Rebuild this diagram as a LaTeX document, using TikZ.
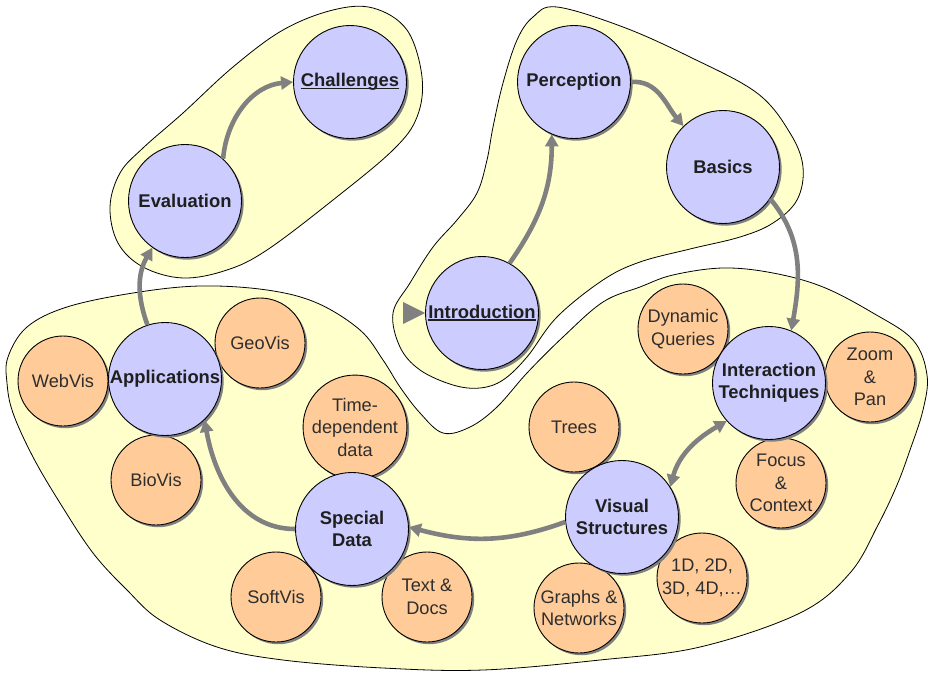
\documentclass[tikz,border=0pt]{standalone}
\usepackage{fontspec}
\setmainfont{Liberation Sans}
\usetikzlibrary{arrows.meta,shadows}
\definecolor{blobfill}{HTML}{FFFFCC}
\definecolor{topicfill}{HTML}{CCCCFF}
\definecolor{subfill}{HTML}{FFCC99}
\definecolor{linkgray}{HTML}{808080}
% underline set close to the baseline
\newcommand{\baseul}[1]{\setbox0=\hbox{#1}\makebox[0pt][l]{\rule[-2.6pt]{\wd0}{1.5pt}}\box0}
\begin{document}
\begin{tikzpicture}[x=1pt,y=-1pt,
  blob/.style={draw=black, line width=0.8pt, fill=blobfill},
  bubble/.style={circle, draw=black, line width=0.9pt, inner sep=0pt, align=center,
    drop shadow={shadow xshift=2.2pt, shadow yshift=-2.2pt, fill=black!50, opacity=1}},
  topic/.style={bubble, fill=topicfill, minimum size=113pt,
    font=\fontsize{18.4}{22}\selectfont\bfseries, text=black!88},
  sub/.style={bubble, fill=subfill, minimum size=90pt,
    font=\fontsize{18.2}{22.5}\selectfont, text=black!82},
  link/.style={draw=linkgray, line width=4.6pt, -{Triangle[length=12pt,width=13pt]}},
  dlink/.style={draw=linkgray, line width=4.6pt, {Triangle[length=12pt,width=13pt]}-{Triangle[length=12pt,width=13pt]}},
]
\useasboundingbox (0,0) rectangle (929,672);

% group outlines
\draw[blob] plot[smooth cycle, tension=0.6] coordinates {
  (110,207) (120,173) (143,148) (183,113) (233,67) (283,30) (333,10) (373,8)
  (407,30) (422,77) (417,117) (393,150) (333,200) (267,250) (227,270)
  (183,278) (143,267) (118,243)};

\draw[blob] plot[smooth cycle, tension=0.6] coordinates {
  (393,313) (410,283) (433,247) (457,220) (477,193) (487,160) (493,127)
  (503,83) (517,40) (533,17) (557,7) (623,27) (690,57) (757,93) (790,133)
  (803,167) (797,200) (773,223) (740,237) (690,249) (640,262) (603,280)
  (557,317) (527,357) (503,380) (480,388) (453,385) (420,370) (400,347)};

\draw[blob] plot[smooth cycle, tension=0.6] coordinates {
  (8,357) (27,327) (67,307) (133,293) (200,286) (267,290) (317,303)
  (360,330) (383,360) (400,387) (420,413) (443,433) (470,427) (497,407)
  (527,373) (563,337) (603,302) (640,287) (673,275) (723,268) (773,273)
  (823,287) (873,313) (913,340) (927,375) (923,410) (910,450) (897,485)
  (878,525) (850,573) (800,613) (700,647) (600,660) (483,670) (383,668)
  (283,660) (217,647) (160,620) (127,590) (93,553) (60,503) (33,457)
  (13,413) (7,383)};

% topics
\node[topic] (chal)  at (350,82)  {\baseul{Challenges}};
\node[topic] (eval)  at (185,201) {Evaluation};
\node[topic] (perc)  at (574,82)  {Perception};
\node[topic] (basics) at (723,167) {Basics};
\node[topic] (intro) at (482,313) {\baseul{Introduction}};

% sub-topics around Applications
\node[sub] (webvis) at (63,381)  {WebVis};
\node[sub] (geovis) at (260,343) {GeoVis};
\node[sub] (biovis) at (156,480) {BioVis};
\node[topic] (app)  at (165,379) {Applications};

% sub-topics around Special Data
\node[sub] (timedep) at (355,427) {Time-\\dependent\\data};
\node[sub] (softvis) at (276,597) {SoftVis};
\node[sub] (textdoc) at (427,597) {Text \&\\Docs};
\node[topic] (sd) at (352,529) {Special\\Data};

% sub-topics around Interaction Techniques
\node[sub] (dynq)  at (683,329) {Dynamic\\Queries};
\node[sub] (zoom)  at (870,377) {Zoom\\\&\\Pan};
\node[sub] (focus) at (781,483) {Focus\\\&\\Context};
\node[topic] (inter) at (769,383) {Interaction\\Techniques};

% sub-topics around Visual Structures
\node[sub] (trees) at (574,427) {Trees};
\node[sub] (dims)  at (702,578) {1D, 2D,\\3D, 4D,\dots};
\node[sub] (graphs) at (579,608) {Graphs \&\\Networks};
\node[topic] (vs) at (622,517) {Visual\\Structures};

% reading order
\fill[linkgray] (intro.west) -- ++(-22,11) -- ++(0,-22) -- cycle;
\draw[link] (intro.61) to[out=55,in=270] (perc.247);
\draw[link] (perc.0) to[out=5,in=130] (basics.134);
\draw[link] (basics.-34) to[out=-50,in=80] (inter.67);
\draw[dlink] (vs.32) to[out=75,in=210] (inter.222);
\draw[link] (vs.185) to[out=200,in=-15] (sd.2);
\draw[link] (sd.180) to[out=180,in=-80] (app.-46);
\draw[link] (app.108) to[out=110,in=240] (eval.235);
\draw[link] (eval.48) to[out=85,in=185] (chal.180);
\end{tikzpicture}
\end{document}
